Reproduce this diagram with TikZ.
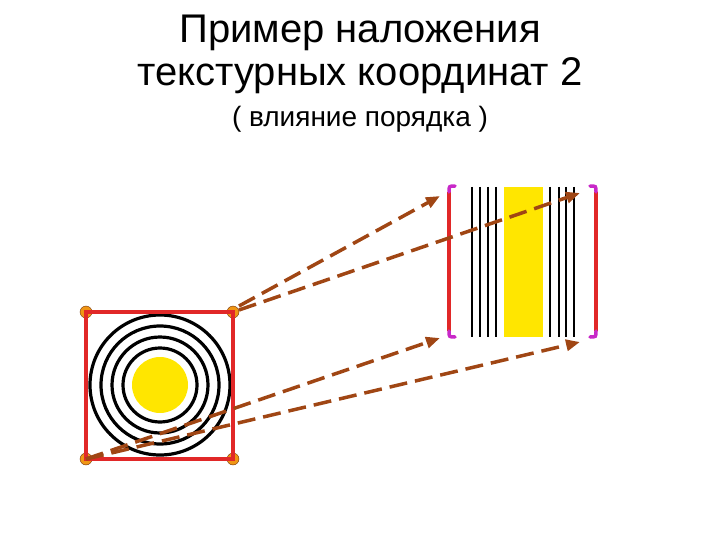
\documentclass[tikz,border=0pt]{standalone}
\usepackage{fontspec}
\setmainfont{Liberation Sans}
\usetikzlibrary{arrows.meta}
\definecolor{brn}{RGB}{160,70,20}
\definecolor{rd}{RGB}{225,40,40}
\definecolor{yl}{RGB}{255,230,0}
\definecolor{org}{RGB}{240,150,20}
\definecolor{mg}{RGB}{200,40,200}
\begin{document}
\begin{tikzpicture}[x=1pt,y=-1pt,
  arr/.style={brn,line width=3.5pt,dash pattern=on 18pt off 8pt,-{Triangle[length=14pt,width=11pt]}},
  dot/.style={circle,fill=org,draw=brn!70!black,thin,inner sep=0pt,minimum size=12pt},
  ring/.style={draw=black,line width=3.2pt},
  brk/.style={mg,line width=3.5pt,line cap=round}]
\useasboundingbox (0,0) rectangle (720,540);
\node (t1) at (360,33) {\fontsize{40}{46}\selectfont Пример наложения};
\node (t2) at (360,76) {\fontsize{40}{46}\selectfont текстурных координат 2};
\node (t3) at (360,119) {\fontsize{28}{32}\selectfont ( влияние порядка )};
% left square
\foreach \r in {70,59,48,37} \draw[ring] (160,385) circle (\r);
\fill[yl] (160,385) circle (28);
\node[dot] (a) at (86,312) {};
\node[dot] (b) at (233,312) {};
\node[dot] (c) at (86,459) {};
\node[dot] (d) at (233,459) {};
\draw[rd,line width=4pt] (86,312) rectangle (233,459);
% right texture
\fill[yl] (504,187) rectangle (543,337);
\foreach \x in {472,480,488,496,550,559,566,574} \draw[black,line width=2.6pt] (\x,187) -- (\x,337);
\coordinate (p) at (449,192);
\coordinate (q) at (596,192);
\coordinate (r) at (449,331);
\coordinate (s) at (596,331);
\draw[rd,line width=4pt] (p) -- (r);
\draw[rd,line width=4pt] (q) -- (s);
\draw[brk] (455,186) .. controls (449,186) .. (p);
\draw[brk] (590,186) .. controls (596,186) .. (q);
\draw[brk] (455,337) .. controls (449,337) .. (r);
\draw[brk] (590,337) .. controls (596,337) .. (s);
% arrows
\coordinate (e1) at (440,196);
\coordinate (e2) at (580,193);
\coordinate (e3) at (440,338);
\coordinate (e4) at (580,342);
\draw[arr] (b.center) ++(6,-6) -- (e1);
\draw[arr] (b.center) ++(6,-2) -- (e2);
\draw[arr] (c.center) -- (e3);
\draw[arr] (c.center) -- (e4);
\end{tikzpicture}
\end{document}
